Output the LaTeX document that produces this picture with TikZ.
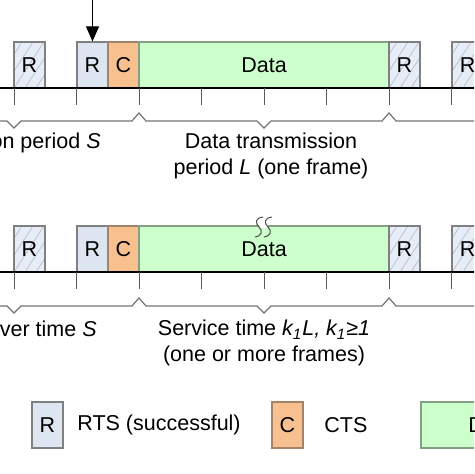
\documentclass[tikz,border=0pt]{standalone}
\usepackage{fontspec}
\setmainfont{Liberation Sans}
\usetikzlibrary{arrows.meta}
\pgfdeclarelayer{bg}
\pgfsetlayers{bg,main}
\definecolor{rtsfill}{HTML}{DDE5F1}
\definecolor{collfill}{HTML}{E6EDF7}
\definecolor{hatchgray}{HTML}{C0C7D2}
\definecolor{ctsfill}{HTML}{F9C08F}
\definecolor{ctsline}{HTML}{A48468}
\definecolor{datfill}{HTML}{CCFFCC}
\definecolor{datline}{HTML}{84A084}
\definecolor{slotgray}{HTML}{808080}
\newcommand{\lblfont}{\fontsize{10.75}{12.75}\selectfont}
\tikzset{
  slot/.style={draw=slotgray, line width=0.6pt, inner sep=0pt,
    minimum width=15.5pt, minimum height=23pt, font=\lblfont},
  rts/.style={slot, fill=rtsfill},
  cts/.style={slot, fill=ctsfill, draw=ctsline},
  dat/.style={slot, fill=datfill, draw=datline, minimum width=125pt},
  hatch/.style={draw=hatchgray, line width=0.45pt},
  coll/.style={slot, fill=collfill, path picture={
    \foreach \d in {-33,-22,...,33}
      \draw[hatch] ([xshift=\d*0.5pt]path picture bounding box.south west) -- ++(30,-46);}},
  timeline/.style={line width=0.75pt, black},
  tick/.style={line width=0.5pt, black!65},
  brace/.style={line width=0.6pt, black!55},
  note/.style={font=\lblfont, inner sep=0pt},
}

\begin{document}
\begin{tikzpicture}[x=0.5pt, y=-0.5pt]
        \useasboundingbox (0,0) rectangle (474,474);
        \clip (0,0) rectangle (474,474);
        % upper timeline
        \node (c1) [coll] at (29.5, 65) {R};
        \node (r1) [rts] at (92.5, 65) {R};
        \node (t1) [cts] at (123.5, 65) {C};
        \node (d1) [dat] at (264, 65) {Data};
        \node (c2) [coll] at (404.5, 65) {R};
        \node (c3) [coll] at (467.5, 65) {R};
        \coordinate (a0) at (0, 88);
        \coordinate (a1) at (474, 88);
        \coordinate (sig) at (92.5, 0);
        \draw[line width=0.6pt, -{Triangle[length=7.5pt, width=6.5pt]}] (sig) -- (r1.north);
        \draw[timeline] (a0) -- (a1);
        \foreach \x in {14,76.5,...,452} \draw[tick] (\x, 88) -- (\x, 105);
        \draw[brace] (0,121) -- (7,121) -- (14,128) -- (21,121) -- (132,121) -- (139,113)
                -- (146,121) -- (257,121) -- (264,128) -- (271,121) -- (382,121) -- (389,113)
                -- (396,121) -- (474,121);
        \node (n1) [note, anchor=east] at (101, 143) {Contention period \textit{S}};
        \node (n2) [note, align=center] at (271, 156) {Data transmission\\period \textit{L} (one frame)};

        % lower timeline
        \node (c4) [coll] at (29.5, 249) {R};
        \node (r2) [rts] at (92.5, 249) {R};
        \node (t2) [cts] at (123.5, 249) {C};
        \node (d2) [dat] at (264, 249) {Data};
        \node (c5) [coll] at (404.5, 249) {R};
        \node (c6) [coll] at (467.5, 249) {R};
        \fill[white] (259,224.5) rectangle (268,227.6);
        \draw[line width=0.5pt, black!70] (263,217) .. controls (255,218) and (255,223) .. (259,227)
                .. controls (263,231) and (262,236) .. (255,237);
        \draw[line width=0.5pt, black!70] (272,217) .. controls (264,218) and (264,223) .. (268,227)
                .. controls (272,231) and (271,236) .. (264,237);
        \coordinate (b0) at (0, 272);
        \coordinate (b1) at (474, 272);
        \draw[timeline] (b0) -- (b1);
        \foreach \x in {14,76.5,...,452} \draw[tick] (\x, 272) -- (\x, 289);
        \draw[brace] (0,306) -- (7,306) -- (14,313) -- (21,306) -- (132,306) -- (139,298)
                -- (146,306) -- (257,306) -- (264,313) -- (271,306) -- (382,306) -- (389,298)
                -- (396,306) -- (474,306);
        \node (n3) [note, anchor=east] at (97, 329) {Switchover time \textit{S}};
        \node (n4) [note, align=center] at (264, 343) {Service time \textit{k\textsubscript{1}L, k\textsubscript{1}≥1}\\(one or more frames)};

        % legend
        \node (k1) [rts] at (47.5, 425) {R};
        \node (k1t) [note, anchor=west] at (77, 425) {RTS (successful)};
        \node (k2) [cts] at (287.5, 425) {C};
        \node (k2t) [note, anchor=west] at (324, 425) {CTS};
        \node (k3) [dat, minimum width=70pt] at (491, 425) {Data};
\end{tikzpicture}
\end{document}
